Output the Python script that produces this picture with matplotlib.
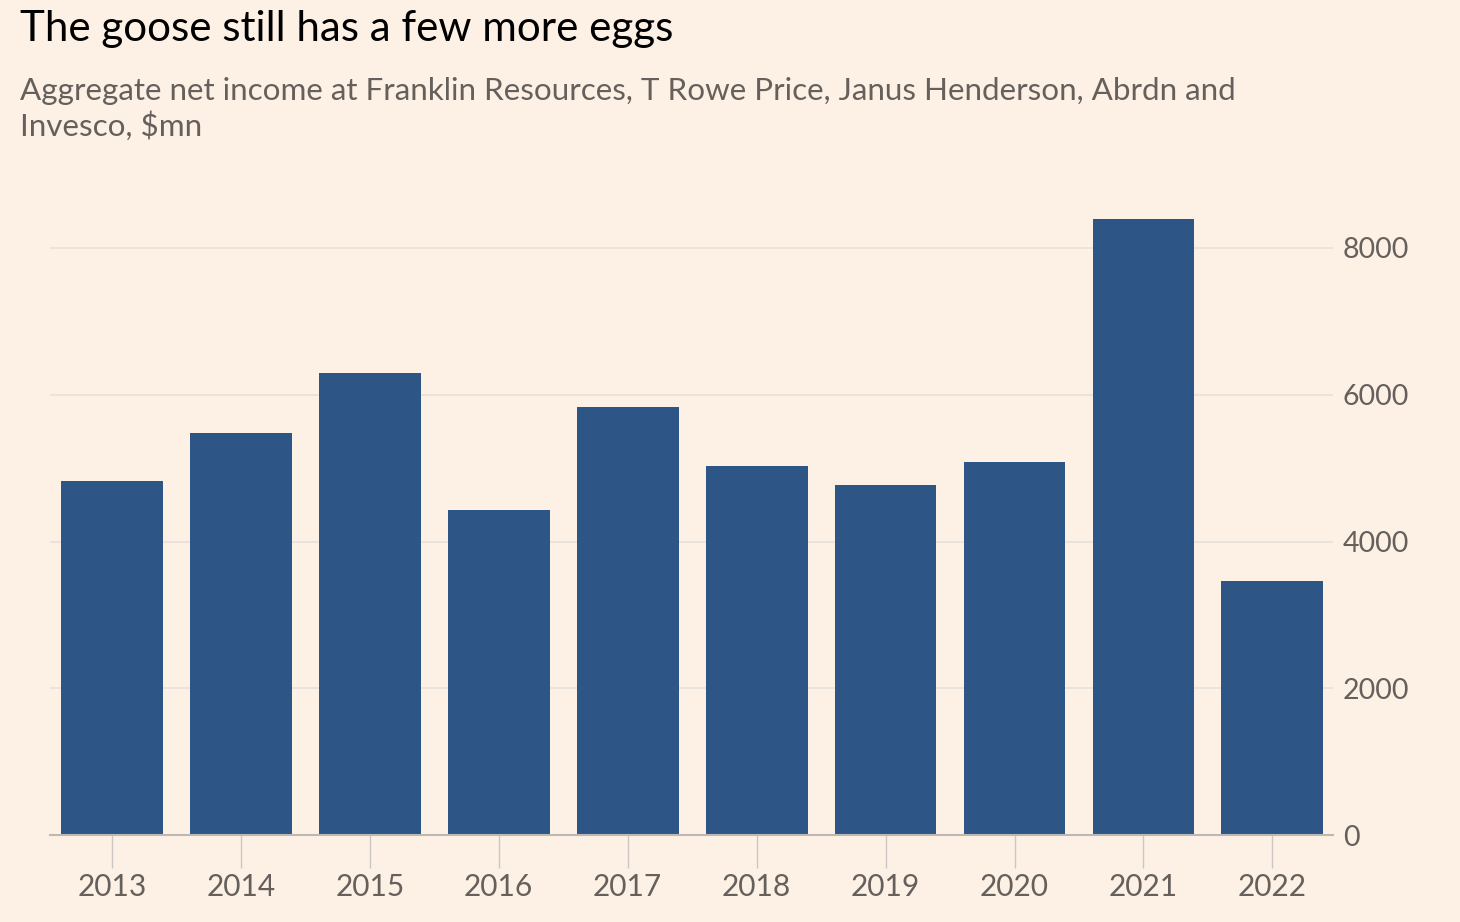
import numpy as np
import matplotlib
matplotlib.use("Agg")
import matplotlib.pyplot as plt

years = ["2013", "2014", "2015", "2016", "2017", "2018", "2019", "2020", "2021", "2022"]
net_income = [4825, 5479, 6296, 4429, 5833, 5029, 4770, 5083, 8395, 3462]
y_ticks = [0, 2000, 4000, 6000, 8000]

bg = "#FDF1E5"
bar_colour = "#2D5586"
text_grey = "#66605C"

plt.rcParams['font.family'] = ['Lato', 'DejaVu Sans']

fig = plt.figure(figsize=(14.6, 9.22), dpi=100)
fig.patch.set_facecolor(bg)

W, H = 1460, 922
left, right, bottom = 50, 1333, 835
ymax = 8600
top = bottom - ymax * 0.073375
ax = fig.add_axes([left / W, (H - bottom) / H, (right - left) / W, (bottom - top) / H])
ax.set_facecolor(bg)

x = np.arange(len(years))
ax.bar(x, net_income, width=0.79, color=bar_colour, zorder=3)

ax.set_xlim(-0.48, len(years) - 1 + 0.47)
ax.set_ylim(0, ymax)
ax.set_yticks(y_ticks)
ax.set_yticklabels([str(v) for v in y_ticks])
ax.set_xticks(x)
ax.set_xticklabels(years)

ax.yaxis.tick_right()
ax.grid(axis="y", color="#E6E0DC", linewidth=1.2, zorder=0)
for s in ["top", "left", "right"]:
    ax.spines[s].set_visible(False)
ax.spines["bottom"].set_color("#BDB8B4")
ax.spines["bottom"].set_linewidth(1.5)
ax.spines["bottom"].set_zorder(4)

ax.tick_params(axis="y", length=0, pad=7, labelsize=20.5, labelcolor=text_grey)
ax.tick_params(axis="x", length=24, width=1, color="#CCC6C2", pad=3,
               labelsize=21.5, labelcolor=text_grey)

fig.text(20 / W, 1 - 10 / H, "The goose still has a few more eggs",
         fontsize=30.3, color="#000000", va="top", ha="left")
fig.text(20 / W, 1 - 77 / H,
         "Aggregate net income at Franklin Resources, T Rowe Price, Janus Henderson, Abrdn and\nInvesco, $mn",
         fontsize=22.6, color=text_grey, va="top", ha="left", linespacing=1.25)

fig.savefig("out.png", dpi=100, facecolor=bg)
